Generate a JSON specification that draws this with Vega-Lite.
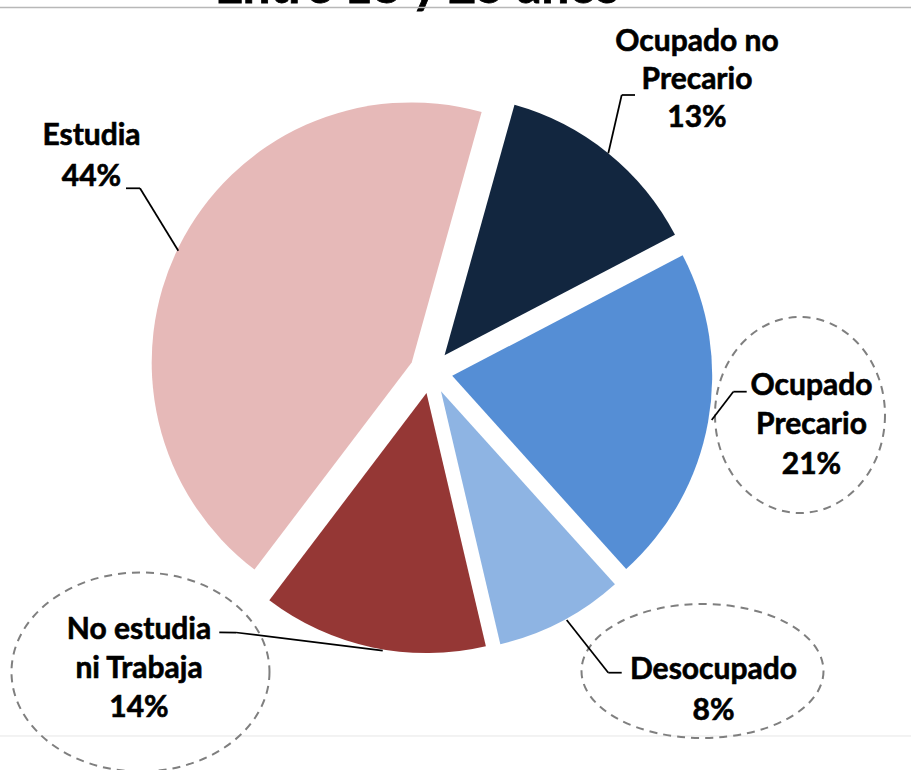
{
  "$schema": "https://vega.github.io/schema/vega-lite/v6.json",
  "width": 862,
  "height": 744,
  "autosize": {"type": "none"},
  "padding": {"left": 0, "top": 0, "right": 49, "bottom": 26},
  "background": "white",
  "config": {"view": {"stroke": null}},
  "layer": [
    {
      "data": {
        "values": [
          {"cat": "Ocupado no Precario", "name": "Ocupado no\nPrecario", "pct": 13, "ord": 1},
          {"cat": "Ocupado Precario", "name": "Ocupado\nPrecario", "pct": 21, "ord": 2},
          {"cat": "Desocupado", "name": "Desocupado", "pct": 8, "ord": 3},
          {"cat": "No estudia ni Trabaja", "name": "No estudia\nni Trabaja", "pct": 14, "ord": 4},
          {"cat": "Estudia", "name": "Estudia", "pct": 44, "ord": 5}
        ]
      },
      "transform": [
        {"window": [{"op": "sum", "field": "pct", "as": "cum"}], "sort": [{"field": "ord", "order": "ascending"}], "frame": [null, 0]},
        {"calculate": "datum.cum - datum.pct", "as": "start"},
        {"calculate": "0.2723 + 2*PI*(datum.start + datum.pct/2)/100", "as": "mid"},
        {"calculate": "8.3*sin(datum.mid)", "as": "ex"},
        {"calculate": "8.3*cos(datum.mid)", "as": "ey"},
        {"calculate": "datum.name + '\\n' + datum.pct + '%'", "as": "label"}
      ],
      "layer": [
        {
          "mark": {"type": "arc", "radius": 260},
          "encoding": {
            "theta": {"field": "start", "type": "quantitative", "stack": null, "scale": {"domain": [0, 100], "range": [0.2723, 6.5555]}},
            "theta2": {"field": "cum"},
            "x": {"field": "ex", "type": "quantitative", "scale": {"domain": [-166, 166], "nice": false, "zero": false}, "axis": null},
            "y": {"field": "ey", "type": "quantitative", "scale": {"domain": [-143, 143], "nice": false, "zero": false}, "axis": null},
            "color": {
              "field": "cat",
              "type": "nominal",
              "scale": {
                "domain": ["Ocupado no Precario", "Ocupado Precario", "Desocupado", "No estudia ni Trabaja", "Estudia"],
                "range": ["#12263f", "#558ed5", "#8eb4e3", "#953735", "#e6b9b8"]
              },
              "legend": null
            }
          }
        },
        {
          "transform": [{"filter": "datum.cat == 'Estudia'"}],
          "mark": {"type": "text", "font": "Lato", "fontWeight": "bold", "fontSize": 30, "lineHeight": 41, "lineBreak": "\n", "align": "center", "baseline": "middle", "color": "black", "stroke": "black", "strokeWidth": 0.6},
          "encoding": {
            "x": {"datum": -130.76, "type": "quantitative"},
            "y": {"datum": 90.72, "type": "quantitative"},
            "text": {"field": "label"}
          }
        },
        {
          "transform": [{"filter": "datum.cat == 'Ocupado no Precario'"}],
          "mark": {"type": "text", "font": "Lato", "fontWeight": "bold", "fontSize": 30, "lineHeight": 38, "lineBreak": "\n", "align": "center", "baseline": "middle", "color": "black", "stroke": "black", "strokeWidth": 0.6},
          "encoding": {
            "x": {"datum": 102.45, "type": "quantitative"},
            "y": {"datum": 126.85, "type": "quantitative"},
            "text": {"field": "label"}
          }
        },
        {
          "transform": [{"filter": "datum.cat == 'Ocupado Precario'"}],
          "mark": {"type": "text", "font": "Lato", "fontWeight": "bold", "fontSize": 30, "lineHeight": 39.5, "lineBreak": "\n", "align": "center", "baseline": "middle", "color": "black", "stroke": "black", "strokeWidth": 0.6},
          "encoding": {
            "x": {"datum": 146.55, "type": "quantitative"},
            "y": {"datum": -5.38, "type": "quantitative"},
            "text": {"field": "label"}
          }
        },
        {
          "transform": [{"filter": "datum.cat == 'Desocupado'"}],
          "mark": {"type": "text", "font": "Lato", "fontWeight": "bold", "fontSize": 30, "lineHeight": 41, "lineBreak": "\n", "align": "center", "baseline": "middle", "color": "black", "stroke": "black", "strokeWidth": 0.6},
          "encoding": {
            "x": {"datum": 108.8, "type": "quantitative"},
            "y": {"datum": -114.55, "type": "quantitative"},
            "text": {"field": "label"}
          }
        },
        {
          "transform": [{"filter": "datum.cat == 'No estudia ni Trabaja'"}],
          "mark": {"type": "text", "font": "Lato", "fontWeight": "bold", "fontSize": 30, "lineHeight": 39, "lineBreak": "\n", "align": "center", "baseline": "middle", "color": "black", "stroke": "black", "strokeWidth": 0.6},
          "encoding": {
            "x": {"datum": -112.46, "type": "quantitative"},
            "y": {"datum": -99.18, "type": "quantitative"},
            "text": {"field": "label"}
          }
        }
      ]
    },
    {
      "data": {"values": [{}]},
      "layer": [
        {
          "mark": {"type": "text", "font": "Lato", "fontWeight": "bold", "fontSize": 49, "align": "center", "baseline": "alphabetic", "color": "black", "stroke": "black", "strokeWidth": 0.8},
          "encoding": {
            "x": {"datum": -5.4, "type": "quantitative"},
            "y": {"datum": 141.8, "type": "quantitative"},
            "text": {"value": "Entre 18 y 25 años"}
          }
        },
        {
          "mark": {"type": "rule", "color": "#b8b8b8", "strokeWidth": 1.5},
          "encoding": {"x": {"datum": -166}, "x2": {"datum": 184.9}, "y": {"datum": 140.12}}
        },
        {
          "mark": {"type": "rule", "color": "#e6e6e6", "strokeWidth": 1},
          "encoding": {"x": {"datum": -166}, "x2": {"datum": 184.9}, "y": {"datum": -139.92}}
        },
        {
          "mark": {"type": "point", "shape": "M0.8673,0 C0.8673,0.5523 0.479,1 0,1 C-0.479,1 -0.8673,0.5523 -0.8673,0 C-0.8673,-0.5523 -0.479,-1 0,-1 C0.479,-1 0.8673,-0.5523 0.8673,0 Z", "size": 38416, "filled": false, "stroke": "#7f7f7f", "strokeWidth": 2, "strokeDash": [8, 6], "opacity": 1},
          "encoding": {"x": {"datum": 142.12, "type": "quantitative"}, "y": {"datum": -16.53, "type": "quantitative"}}
        },
        {
          "mark": {"type": "point", "shape": "M1,0 C1,0.3058 0.5523,0.5537 0,0.5537 C-0.5523,0.5537 -1,0.3058 -1,0 C-1,-0.3058 -0.5523,-0.5537 0,-0.5537 C0.5523,-0.5537 1,-0.3058 1,0 Z", "size": 58564, "filled": false, "stroke": "#7f7f7f", "strokeWidth": 2, "strokeDash": [8, 6], "opacity": 1},
          "encoding": {"x": {"datum": 104.57, "type": "quantitative"}, "y": {"datum": -114.94, "type": "quantitative"}}
        },
        {
          "mark": {"type": "point", "shape": "M1,0 C1,0.426 0.5523,0.7713 0,0.7713 C-0.5523,0.7713 -1,0.426 -1,0 C-1,-0.426 -0.5523,-0.7713 0,-0.7713 C0.5523,-0.7713 1,-0.426 1,0 Z", "size": 66564, "filled": false, "stroke": "#7f7f7f", "strokeWidth": 2, "strokeDash": [8, 6], "opacity": 1},
          "encoding": {"x": {"datum": -111.89, "type": "quantitative"}, "y": {"datum": -115.32, "type": "quantitative"}}
        },
        {
          "mark": {"type": "rule", "color": "black", "strokeWidth": 1.75},
          "encoding": {"x": {"datum": -97.33}, "y": {"datum": 46.63}, "x2": {"datum": -112.08}, "y2": {"datum": 70.62}}
        },
        {
          "mark": {"type": "rule", "color": "black", "strokeWidth": 1.75},
          "encoding": {"x": {"datum": -112.08}, "y": {"datum": 70.62}, "x2": {"datum": -117.47}, "y2": {"datum": 70.62}}
        },
        {
          "mark": {"type": "rule", "color": "black", "strokeWidth": 1.75},
          "encoding": {"x": {"datum": 68.29}, "y": {"datum": 84.07}, "x2": {"datum": 73.45}, "y2": {"datum": 106.48}}
        },
        {
          "mark": {"type": "rule", "color": "black", "strokeWidth": 1.75},
          "encoding": {"x": {"datum": 73.45}, "y": {"datum": 106.48}, "x2": {"datum": 78.57}, "y2": {"datum": 106.48}}
        },
        {
          "mark": {"type": "rule", "color": "black", "strokeWidth": 1.75},
          "encoding": {"x": {"datum": 108.11}, "y": {"datum": -18.45}, "x2": {"datum": 116.43}, "y2": {"datum": -7.57}}
        },
        {
          "mark": {"type": "rule", "color": "black", "strokeWidth": 1.75},
          "encoding": {"x": {"datum": 116.43}, "y": {"datum": -7.57}, "x2": {"datum": 121.59}, "y2": {"datum": -7.57}}
        },
        {
          "mark": {"type": "rule", "color": "black", "strokeWidth": 1.75},
          "encoding": {"x": {"datum": 52.26}, "y": {"datum": -95.33}, "x2": {"datum": 68.29}, "y2": {"datum": -115.59}}
        },
        {
          "mark": {"type": "rule", "color": "black", "strokeWidth": 1.75},
          "encoding": {"x": {"datum": 68.29}, "y": {"datum": -115.59}, "x2": {"datum": 73.45}, "y2": {"datum": -115.59}}
        },
        {
          "mark": {"type": "rule", "color": "black", "strokeWidth": 1.75},
          "encoding": {"x": {"datum": -18.6}, "y": {"datum": -107.13}, "x2": {"datum": -75.1}, "y2": {"datum": -100.14}}
        },
        {
          "mark": {"type": "rule", "color": "black", "strokeWidth": 1.75},
          "encoding": {"x": {"datum": -75.1}, "y": {"datum": -100.14}, "x2": {"datum": -81.54}, "y2": {"datum": -100.06}}
        }
      ]
    }
  ]
}
